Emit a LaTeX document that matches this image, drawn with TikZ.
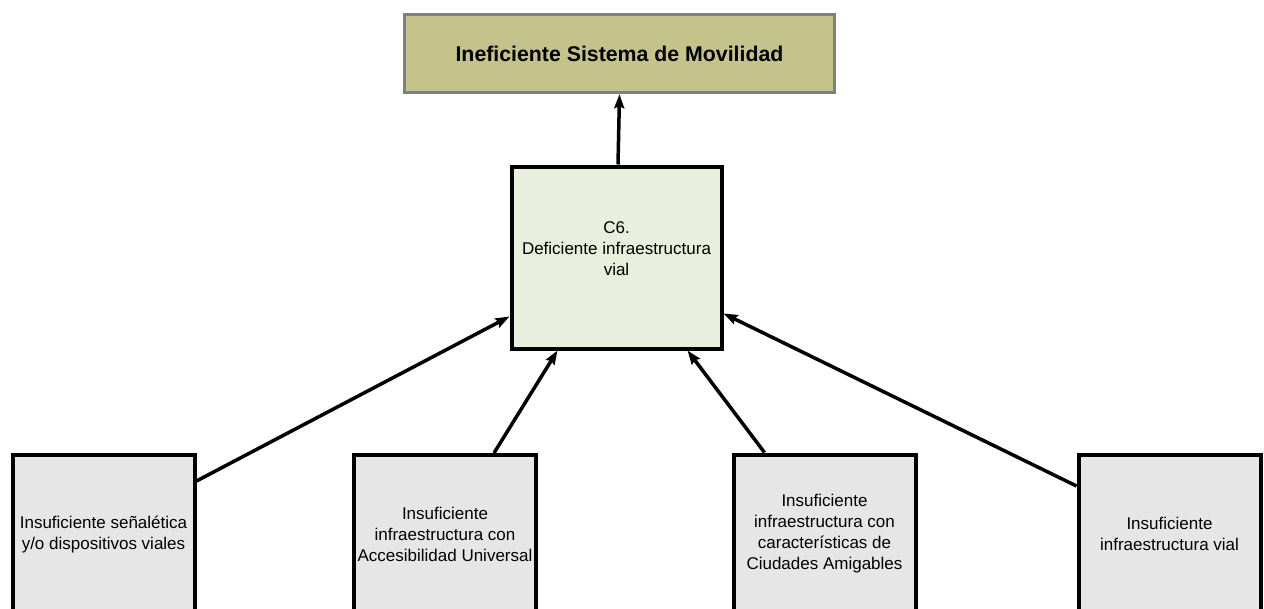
\documentclass[tikz,border=0pt]{standalone}
\usepackage{fontspec}
\setmainfont{Liberation Sans}
\usetikzlibrary{arrows.meta,calc}
\definecolor{topfill}{HTML}{C3C38B}
\definecolor{topline}{HTML}{808080}
\definecolor{midfill}{HTML}{E8EFDC}
\definecolor{lowfill}{HTML}{E6E6E6}
\tikzset{
  topbox/.style={draw=topline,line width=3.5pt,fill=topfill,minimum width=430pt,minimum height=78pt,inner sep=0pt,
    font=\fontsize{21.3}{25}\selectfont\bfseries},
  midbox/.style={draw=black,line width=4pt,fill=midfill,minimum width=210pt,minimum height=182pt,inner sep=0pt},
  lowbox/.style={draw=black,line width=4pt,fill=lowfill,minimum width=182pt,minimum height=158pt,inner sep=0pt,
    align=center,font=\fontsize{17}{21}\selectfont},
  txt/.style={align=center,font=\fontsize{17}{21}\selectfont,inner sep=0pt},
  conn/.style={line width=3.5pt,-{Stealth[length=14pt,width=10pt,inset=2pt]}}
}
\begin{document}
\begin{tikzpicture}[x=1pt,y=-1pt]
\useasboundingbox (0,0) rectangle (1264,608);
\node[topbox] (top) at (619.5,53.5) {Ineficiente Sistema de Movilidad};
\node[midbox] (c6) at (616.5,257.5) {};
\node[txt] (c6t) at (616.5,249) {C6.\\Deficiente infraestructura\\vial};
\node[lowbox] (b1) at (103.5,534) {Insuficiente señalética\\y/o dispositivos viales};
\node[lowbox] (b2) at (445,534) {Insuficiente\\infraestructura con\\Accesibilidad Universal};
\node[lowbox] (b3) at (824.5,533.5) {Insuficiente\\infraestructura con\\características de\\Ciudades Amigables};
\node[lowbox] (b4) at (1169.5,534) {Insuficiente\\infraestructura vial};
\draw[conn] ($(c6.north)+(1.5,0)$) -- ($(top.south)+(0,0)$);
\draw[conn] ($(b1.north east)+(0,28)$) -- ($(c6.south west)+(0,-34)$);
\draw[conn] ($(b2.north east)+(-44,0)$) -- ($(c6.south west)+(48,0)$);
\draw[conn] ($(b3.north west)+(33,0)$) -- ($(c6.south east)+(-36,0)$);
\draw[conn] ($(b4.north west)+(0,33)$) -- ($(c6.south east)+(0,-37)$);
\end{tikzpicture}
\end{document}
